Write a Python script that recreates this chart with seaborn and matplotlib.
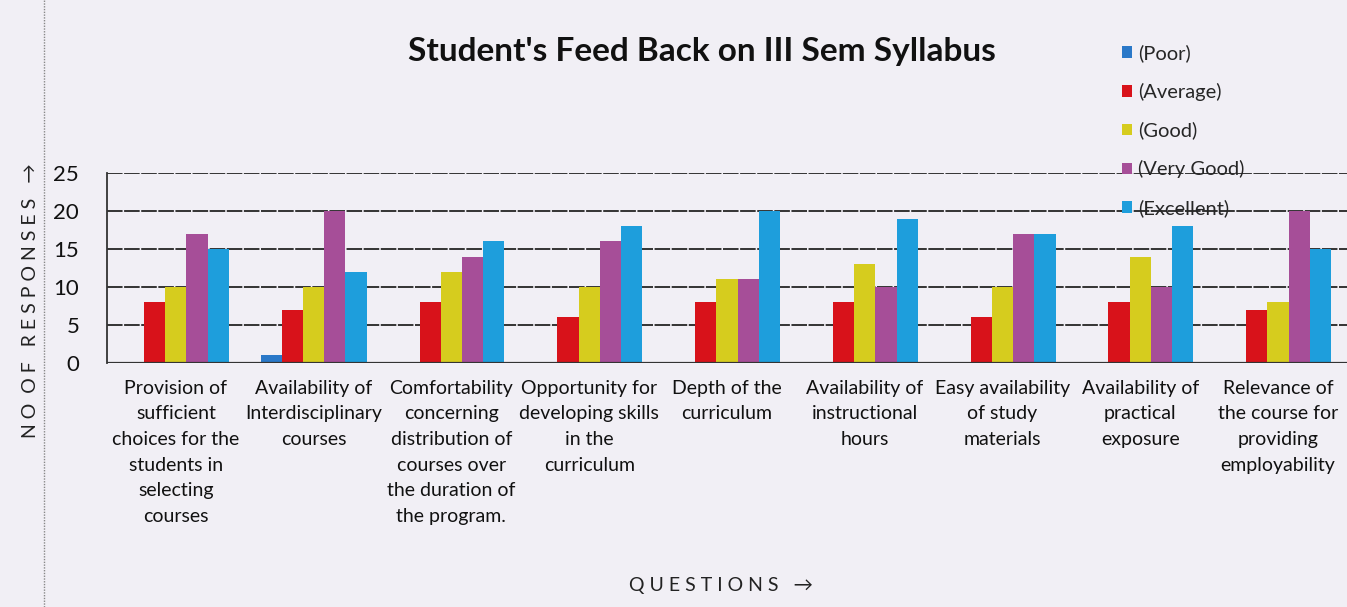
import pandas as pd
import seaborn as sns
import matplotlib.pyplot as plt
from matplotlib.lines import Line2D

questions = [
    "Provision of\nsufficient\nchoices for the\nstudents in\nselecting\ncourses",
    "Availability of\nInterdisciplinary\ncourses",
    "Comfortability\nconcerning\ndistribution of\ncourses over\nthe duration of\nthe program.",
    "Opportunity for\ndeveloping skills\nin the\ncurriculum",
    "Depth of the\ncurriculum",
    "Availability of\ninstructional\nhours",
    "Easy availability\nof study\nmaterials",
    "Availability of\npractical\nexposure",
    "Relevance of\nthe course for\nproviding\nemployability",
]
ratings = ["(Poor)", "(Average)", "(Good)", "(Very Good)", "(Excellent)"]

poor = [0, 1, 0, 0, 0, 0, 0, 0, 0]
average = [8, 7, 8, 6, 8, 8, 6, 8, 7]
good = [10, 10, 12, 10, 11, 13, 10, 14, 8]
very_good = [17, 20, 14, 16, 11, 10, 17, 10, 20]
excellent = [15, 12, 16, 18, 20, 19, 17, 18, 15]

colors = ["#2a78c8", "#d8121a", "#d6cc1e", "#a64e98", "#1e9edc"]

rows = []
for r, vals in zip(ratings, [poor, average, good, very_good, excellent]):
    for q, v in zip(questions, vals):
        rows.append({"question": q, "rating": r, "count": v})
df = pd.DataFrame(rows)

sns.set_style("white")
plt.rcParams["font.family"] = ["Lato", "DejaVu Sans"]
bg = "#f1eff5"

fig = plt.figure(figsize=(13.47, 6.07), dpi=100, facecolor=bg)
ax = fig.add_axes([0.0794, 0.402, 0.9206, 0.313])
ax.set_facecolor(bg)

sns.barplot(data=df, x="question", y="count", hue="rating", order=questions,
            hue_order=ratings, palette=colors, saturation=1, width=0.77,
            linewidth=0, ax=ax, zorder=3)

ax.set_ylim(0, 25)
ax.set_yticks([0, 5, 10, 15, 20, 25])
ax.set_xlim(-0.5, 8.5)
ax.yaxis.grid(True, color="#333333", linewidth=1.4, linestyle=(0, (8, 0.8)), zorder=1)
for s in ["right", "bottom", "top"]:
    ax.spines[s].set_visible(False)
ax.spines["left"].set_color("#333333")
ax.spines["left"].set_linewidth(1.3)
ax.axhline(0, color="#333333", linewidth=1.6, zorder=4)
ax.tick_params(axis="y", length=0, pad=20, labelsize=16, labelcolor="#111")
ax.tick_params(axis="x", length=0, pad=12, labelsize=14, labelcolor="#111")
for t in ax.get_xticklabels():
    t.set_linespacing(1.62)
ax.set_xlabel("")
ax.set_ylabel("")

handles, labels = ax.get_legend_handles_labels()
ax.get_legend().remove()
fig.legend(handles, labels, loc="upper left", bbox_to_anchor=(0.8195, 0.957),
           frameon=False, fontsize=14.5, handlelength=0.5, handleheight=0.5,
           handletextpad=0.3, labelspacing=1.03)

fig.text(0.521, 0.915, "Student's Feed Back on III Sem Syllabus", ha="center",
         va="center", fontsize=24, fontweight="bold", color="#111")

# handwritten axis notes
fig.text(0.023, 0.505, "N O  O F   R E S P O N S E S   →", rotation=90,
         ha="center", va="center", fontsize=14, color="#222")
fig.text(0.535, 0.036, "Q U E S T I O N S   →", ha="center", va="center",
         fontsize=14, color="#222")

# page border from the scan
fig.add_artist(Line2D([0.033, 0.033], [0, 1], transform=fig.transFigure,
                      color="#888", linestyle=(0, (1, 1)), linewidth=1))

fig.savefig("out.png", dpi=100, facecolor=bg)
